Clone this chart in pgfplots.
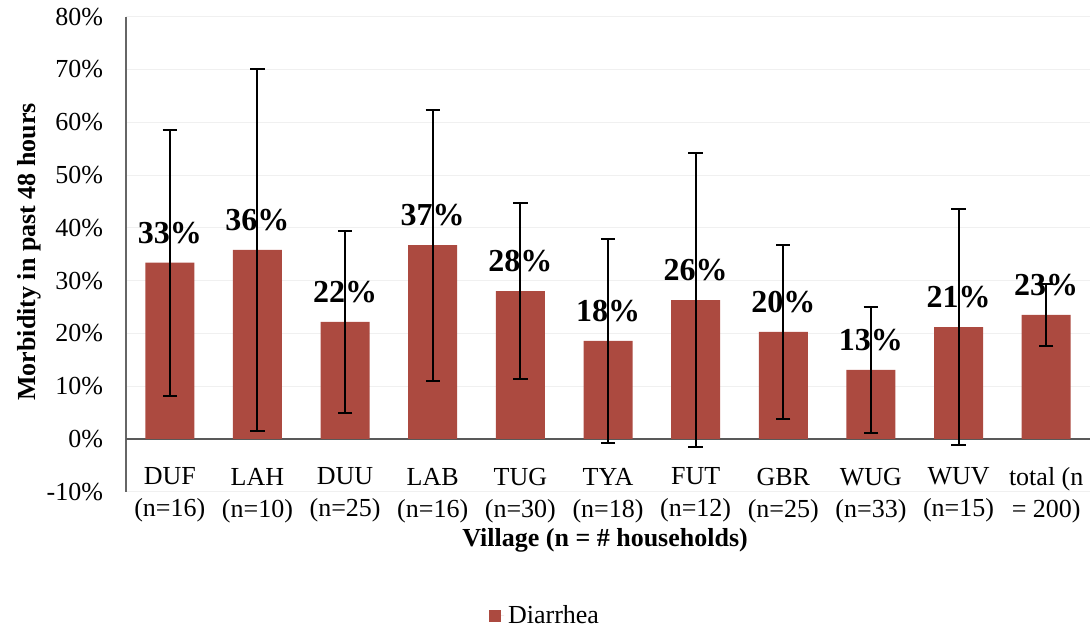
\documentclass[border=0pt]{standalone}
\usepackage{fontspec}
\setmainfont{Liberation Serif}
\usepackage{pgfplots}
\usepackage{pgfplotstable}
\pgfplotsset{compat=1.18}

\definecolor{barred}{RGB}{172,74,64}

% x: category index, y: share in %, err: half length of the error bar, lab: printed label
\pgfplotstableread{
x y err lab
0 33.4 25.2 33
1 35.8 34.3 36
2 22.2 17.2 22
3 36.7 25.7 37
4 28.0 16.7 28
5 18.6 19.3 18
6 26.3 27.9 26
7 20.3 16.5 20
8 13.1 11.9 13
9 21.2 22.4 21
10 23.5 5.8 23
}\diarrhea

\begin{document}
\begin{tikzpicture}
\useasboundingbox (0,0) rectangle (545.5pt,315pt);
\begin{axis}[
    at={(63pt,69.1pt)}, anchor=south west,
    scale only axis, width=482pt, height=237.6pt,
    /pgf/number format/assume math mode=true,
    xmin=-0.5, xmax=10.5,
    ymin=-10, ymax=80,
    ytick={-10,0,...,80},
    yticklabel={\pgfmathprintnumber{\tick}\%},
    xtick={0,...,10},
    xticklabels={DUF\\(n=16), LAH\\(n=10), DUU\\(n=25), LAB\\(n=16), TUG\\(n=30), TYA\\(n=18), FUT\\(n=12), GBR\\(n=25), WUG\\(n=33), WUV\\(n=15), total (n\\= 200)},
    xticklabel style={align=center, font=\fontsize{13}{16}\selectfont, yshift=15.5pt},
    yticklabel style={font=\fontsize{13}{14}\selectfont, xshift=-8pt},
    major tick length=0pt,
    axis y line*=left, axis x line*=bottom,
    x axis line style={draw=none},
    y axis line style={gray!80!black, line width=0.6pt},
    ymajorgrids, major grid style={gray!12},
    extra y ticks={0}, extra y tick labels={},
    extra y tick style={grid=major, major grid style={gray!70!black, line width=0.7pt}},
    xlabel={Village (n = \# households)},
    ylabel={Morbidity in past 48 hours},
    label style={font=\bfseries\fontsize{13}{15}\selectfont},
    xlabel style={at={(axis description cs:0.497,-0.1015)}, anchor=center},
    ylabel style={at={(axis description cs:-0.1,0.505)}, anchor=center},
    legend style={at={(axis description cs:0.4357,-0.261)}, anchor=center, draw=none,
        font=\fontsize{13}{14}\selectfont},
    legend image code/.code={\fill[barred] (0pt,-3pt) rectangle (6pt,3pt); \path (0pt,0pt) -- (7.5pt,0pt);},
    bar width=24.5pt,
    nodes near coords={\pgfmathprintnumber{\pgfplotspointmeta}\%},
    point meta=explicit,
    nodes near coords style={font=\bfseries\fontsize{16}{16}\selectfont, text=black, yshift=6pt},
]
\addplot+[ybar, fill=barred, draw=none, mark=none,
    error bars/.cd, y dir=both, y explicit,
    error bar style={black, line width=1pt},
    error mark options={black, rotate=90, mark size=3.6pt, line width=1pt}]
    table[x=x, y=y, y error=err, meta=lab] {\diarrhea};
\addlegendentry{Diarrhea}
\end{axis}
\end{tikzpicture}
\end{document}
